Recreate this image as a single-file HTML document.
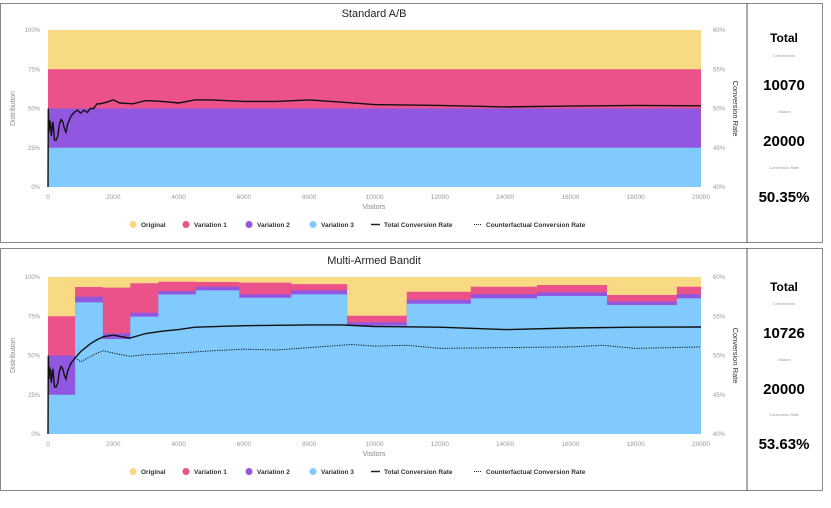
<!DOCTYPE html>
<html><head><meta charset="utf-8">
<style>
body{margin:0;background:#fff;font-family:"Liberation Sans",sans-serif;}
svg text{font-family:"Liberation Sans",sans-serif;}
.stat{font-family:"Liberation Sans",sans-serif;text-anchor:middle;}
</style></head>
<body>
<svg id="root" width="831" height="503" viewBox="0 0 831 503" xmlns="http://www.w3.org/2000/svg">
<g>
<rect x="0.5" y="3.5" width="822" height="239" fill="none" stroke="#888"/>
<line x1="747" y1="3" x2="747" y2="243" stroke="#555"/>
</g>
<g>
<rect x="0.5" y="248.5" width="822" height="242" fill="none" stroke="#888"/>
<line x1="747" y1="248" x2="747" y2="491" stroke="#555"/>
</g>
<g id="charts"></g>
<g>
<text class="stat" x="784" y="42" font-size="12" font-weight="bold">Total</text>
<text class="stat" x="784" y="57" font-size="4" fill="#999">Conversions</text>
<text class="stat" x="784" y="90" font-size="15" font-weight="bold">10070</text>
<text class="stat" x="784" y="113" font-size="4" fill="#999">Visitors</text>
<text class="stat" x="784" y="146" font-size="15" font-weight="bold">20000</text>
<text class="stat" x="784" y="169" font-size="4" fill="#999">Conversion Rate</text>
<text class="stat" x="784" y="202" font-size="15" font-weight="bold">50.35%</text>
</g>
<g>
<text class="stat" x="784" y="291" font-size="12" font-weight="bold">Total</text>
<text class="stat" x="784" y="305" font-size="4" fill="#999">Conversions</text>
<text class="stat" x="784" y="338" font-size="15" font-weight="bold">10726</text>
<text class="stat" x="784" y="361" font-size="4" fill="#999">Visitors</text>
<text class="stat" x="784" y="394" font-size="15" font-weight="bold">20000</text>
<text class="stat" x="784" y="416" font-size="4" fill="#999">Conversion Rate</text>
<text class="stat" x="784" y="449" font-size="15" font-weight="bold">53.63%</text>
</g>
</svg>
<script>
// ---- Standard A/B data ----
const abSegStarts = [0];
const abV3 = [25];
const abV2 = [50];
const abV1 = [75];
const abTotalX = [0,10,30,50,80,100,150,200,250,300,350,400,450,500,550,600,700,800,900,1000,1100,1200,1300,1400,1500,1600,1800,2000,2200,2600,3000,3500,4000,4500,5000,6000,7000,8000,9000,10000,12000,14000,16000,18000,20000];
const abTotal = [40,50,47,48.5,48,46.5,48.3,46,46,46.5,48,48.6,48.3,47.5,47,48,49,49.5,49.8,49.4,49.8,49.5,50,50,50.6,50.6,50.8,51.1,50.7,50.6,51,50.9,50.7,51.1,51.1,50.9,50.9,51.1,50.8,50.5,50.4,50.2,50.3,50.4,50.35];
// ---- Bandit data (cumulative stack tops, %) ----
const mabSegStarts = [0,830,1680,2520,3380,4530,5860,7450,9160,10990,12950,14980,17120,19260];
const mabV3 = [25,83.8,60.5,74.8,88.9,91.5,86.8,88.9,69,83,86.4,87.9,82.2,86.4];
const mabV2 = [50,87.4,64,77.2,91,93.8,88.9,91.5,71.1,85.4,89,90.3,84.3,89];
const mabV1 = [75,93.6,93.2,96,97,96.8,96.4,95.5,75.3,90.6,93.8,94.9,88.5,93.8];
const mabTotalX = [0,10,30,50,80,100,150,200,250,300,350,400,450,500,550,600,700,830,1000,1300,1500,1700,2000,2500,3000,3500,4000,4500,6000,8000,9000,10000,12000,14000,16000,18000,20000];
const mabTotal = [40,50,47,48.5,48,46.5,48.3,46,46,46.5,48,48.6,48.3,47.5,47,48,49,49.7,50.5,51.5,52,52.4,52.6,52.2,52.8,53.1,53.3,53.6,53.8,53.9,53.9,53.7,53.6,53.3,53.5,53.6,53.63];
const mabCfX = [830,1000,1500,1700,2000,2500,3000,4000,5000,6000,7000,8000,9300,10000,11000,12000,14000,16000,17000,18000,20000];
const mabCf = [49.7,49.2,50.3,50.6,50.3,49.9,50.1,50.3,50.6,50.8,50.7,51,51.4,51.2,51.3,50.9,51,51.1,51.3,50.9,51.1];
const xTicks = [0,2000,4000,6000,8000,10000,12000,14000,16000,18000,20000];
const leftTicks = ["0%","25%","50%","75%","100%"];
const rightTicks = ["40%","45%","50%","55%","60%"];
const legendNames = ["Original","Variation 1","Variation 2","Variation 3"];
const colors = ["#f8d984","#ea5289","#9257e0","#80cafd"];
const NS="http://www.w3.org/2000/svg";
const root=document.getElementById('charts');
function mk(tag,attrs,parent){const e=document.createElementNS(NS,tag);for(const k in attrs)e.setAttribute(k,attrs[k]);(parent||root).appendChild(e);return e;}
function drawChart(top,title,starts,v3,v2,v1,tx,tv,cx,cv){
  const x0=48,x1=701,y0=top+157,y1=top;
  const X=v=>x0+(v/20000)*(x1-x0);
  const Yd=p=>y0-(p/100)*(y0-y1);
  const Yr=r=>y0-((r-40)/20)*(y0-y1);
  const g=mk('g',{});
  
  
  const t=mk('text',{x:374,y:top-13,'text-anchor':'middle','font-size':11,fill:'#222'},g);t.textContent=title;
  
  
  const bg=mk('rect',{x:x0,y:y1,width:x1-x0,height:y0-y1,fill:colors[0]},g);
  
  
  const layers=[[v1,colors[1],'area-variation-1'],[v2,colors[2],'area-variation-2'],[v3,colors[3],'area-variation-3']];
  layers.forEach(([arr,col,nm])=>{
    let d='M'+x0+','+y0;
    for(let i=0;i<starts.length;i++){const s=X(starts[i]);const e=X(i+1<starts.length?starts[i+1]:20000);d+=' L'+s+','+Yd(arr[i])+' L'+e+','+Yd(arr[i]);}
    d+=' L'+x1+','+y0+' Z';
    const p=mk('path',{d:d,fill:col},g);
    
    
  });
  const line=(xs,vs,dash,nm)=>{
    const d=xs.map((v,i)=>(i?'L':'M')+X(v).toFixed(1)+','+Yr(vs[i]).toFixed(1)).join(' ');
    const p=mk('path',{d:d,fill:'none',stroke:'#111','stroke-width':dash?1:1.4},g);
    if(dash)p.setAttribute('stroke-dasharray','1.2,1.2');
    
    
  };
  if(cx)line(cx,cv,true,'counterfactual-rate-line');
  line(tx,tv,false,'total-rate-line');
  xTicks.forEach(v=>{const l=mk('text',{x:X(v),y:y0+12,'text-anchor':'middle','font-size':6.5,fill:'#999'},g);l.textContent=v;
    
    });
  leftTicks.forEach((s,i)=>{const l=mk('text',{x:x0-8,y:Yd(i*25)+2,'text-anchor':'end','font-size':6,fill:'#999'},g);l.textContent=s;
    
    });
  rightTicks.forEach((s,i)=>{const l=mk('text',{x:x1+12,y:Yd(i*25)+2,'font-size':6,fill:'#999'},g);l.textContent=s;
    
    });
  const yl=mk('text',{x:0,y:0,transform:`translate(15,${(y0+y1)/2}) rotate(-90)`,'text-anchor':'middle','font-size':7,fill:'#888'},g);yl.textContent='Distribution';
  
  
  const yr=mk('text',{x:0,y:0,transform:`translate(733,${(y0+y1)/2}) rotate(90)`,'text-anchor':'middle','font-size':7.5,fill:'#333'},g);yr.textContent='Conversion Rate';
  
  
  const xl=mk('text',{x:374,y:y0+22,'text-anchor':'middle','font-size':7,fill:'#888'},g);xl.textContent='Visitors';
  
  
  const ly=y0+40;
  const cxs=[133,186,249,313];
  legendNames.forEach((n,i)=>{
    const c=mk('circle',{cx:cxs[i],cy:ly-2.5,r:3.5,fill:colors[i]},g);
    
    
    const tt=mk('text',{x:cxs[i]+8,y:ly,'font-size':6.5,'font-weight':'bold',fill:'#333'},g);tt.textContent=n;
    
    
  });
  mk('line',{x1:371,y1:ly-2.5,x2:380,y2:ly-2.5,stroke:'#222','stroke-width':1.5},g);
  const t1=mk('text',{x:384,y:ly,'font-size':6.5,'font-weight':'bold',fill:'#333'},g);t1.textContent='Total Conversion Rate';
  
  
  mk('line',{x1:474,y1:ly-2.5,x2:482,y2:ly-2.5,stroke:'#222','stroke-width':1,'stroke-dasharray':'1,1'},g);
  const t2=mk('text',{x:486,y:ly,'font-size':6.5,'font-weight':'bold',fill:'#333'},g);t2.textContent='Counterfactual Conversion Rate';
  
  
}
drawChart(30,'Standard A/B',abSegStarts,abV3,abV2,abV1,abTotalX,abTotal,null,null);
drawChart(277,'Multi-Armed Bandit',mabSegStarts,mabV3,mabV2,mabV1,mabTotalX,mabTotal,mabCfX,mabCf);
</script>
</body></html>
